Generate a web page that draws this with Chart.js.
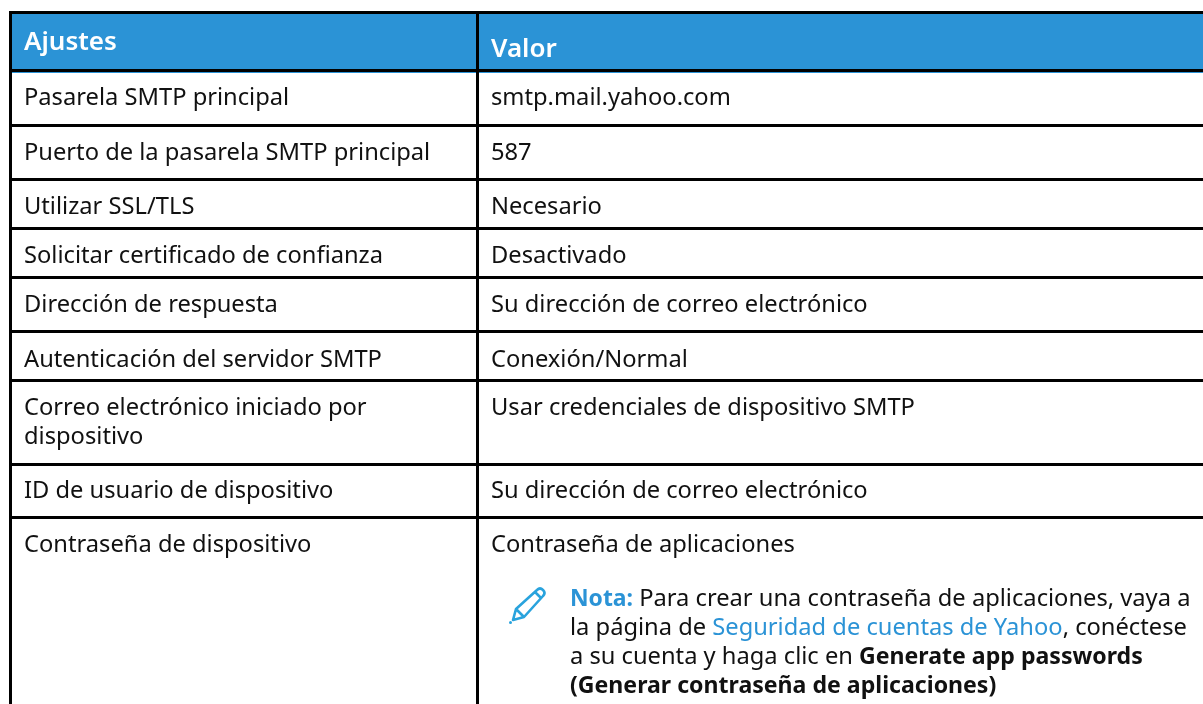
<!DOCTYPE html>
<html lang="es">
<head>
<meta charset="utf-8">
<title>Ajustes Yahoo SMTP</title>
<style>
  html, body { margin: 0; padding: 0; background: #fff; }
  canvas { display: block; }
</style>
<script src="https://cdn.jsdelivr.net/npm/chart.js@4"></script>
</head>
<body>
<canvas id="tabla" width="1203" height="704"></canvas>
<script>
  // ── TABLE CONTENT ─────────────────────────────────────────────────────────
  var tableHeaders = ['Ajustes', 'Valor'];
  var settingNames = [
    ['Pasarela SMTP principal'],
    ['Puerto de la pasarela SMTP principal'],
    ['Utilizar SSL/TLS'],
    ['Solicitar certificado de confianza'],
    ['Dirección de respuesta'],
    ['Autenticación del servidor SMTP'],
    ['Correo electrónico iniciado por', 'dispositivo'],
    ['ID de usuario de dispositivo'],
    ['Contraseña de dispositivo']
  ];
  var settingValues = [
    'smtp.mail.yahoo.com',
    '587',
    'Necesario',
    'Desactivado',
    'Su dirección de correo electrónico',
    'Conexión/Normal',
    'Usar credenciales de dispositivo SMTP',
    'Su dirección de correo electrónico',
    'Contraseña de aplicaciones'
  ];
  var noteLine1 = [['Nota:', 'noteHead'], [' Para crear una contraseña de aplicaciones, vaya a', 'plain']];
  var noteLine2 = [['la página de ', 'plain'], ['Seguridad de cuentas de Yahoo', 'link'], [', conéctese', 'plain']];
  var noteLine3 = [['a su cuenta y haga clic en ', 'plain'], ['Generate app passwords', 'bold']];
  var noteLine4 = [['(Generar contraseña de aplicaciones)', 'bold']];

  // ── LAYOUT (axis units are page pixels) ───────────────────────────────────
  var columnEdges = [10.5, 477.5];
  var rowEdges = [12.5, 70.5, 125.5, 179.5, 228.5, 277.5, 331.5, 380.5, 464.5, 517.5];
  var headerBaselines = [50, 57];
  var rowBaselines = [105, 160, 214, 263, 312, 367, 415, 498, 552];
  var noteBaselines = [606, 635, 664, 693];
  var textX = [24, 491];
  var noteX = 570;

  var BLUE = '#2b93d6';
  var INK = '#111111';
  var FAMILY = '"Noto Sans", sans-serif';
  var FONTS = {
    plain:    '400 23.7px ' + FAMILY,
    bold:     '700 23.1px ' + FAMILY,
    noteHead: '700 22.9px ' + FAMILY,
    link:     '400 23.7px ' + FAMILY,
    header:   '600 26px ' + FAMILY
  };
  var COLORS = { plain: INK, bold: INK, noteHead: BLUE, link: BLUE, header: '#ffffff' };

  function put(ctx, text, x, y, style) {
    ctx.font = FONTS[style];
    ctx.fillStyle = COLORS[style];
    ctx.fillText(text, x, y);
    return x + ctx.measureText(text).width;
  }

  // Cell text and the note icon, positioned through the chart's scales.
  var tableText = {
    id: 'tableText',
    afterDraw: function (chart) {
      var ctx = chart.ctx;
      var sx = chart.scales.x;
      var sy = chart.scales.y;
      ctx.save();
      ctx.textBaseline = 'alphabetic';
      ctx.textAlign = 'left';

      tableHeaders.forEach(function (h, i) {
        put(ctx, h, sx.getPixelForValue(textX[i]), sy.getPixelForValue(headerBaselines[i]), 'header');
      });

      settingNames.forEach(function (lines, i) {
        lines.forEach(function (line, j) {
          put(ctx, line, sx.getPixelForValue(textX[0]), sy.getPixelForValue(rowBaselines[i] + j * 29), 'plain');
        });
        put(ctx, settingValues[i], sx.getPixelForValue(textX[1]), sy.getPixelForValue(rowBaselines[i]), 'plain');
      });

      [noteLine1, noteLine2, noteLine3, noteLine4].forEach(function (runs, i) {
        var x = sx.getPixelForValue(noteX);
        runs.forEach(function (run) {
          x = put(ctx, run[0], x, sy.getPixelForValue(noteBaselines[i]), run[1]);
        });
      });

      // pencil icon
      var ox = sx.getPixelForValue(510);
      var oy = sy.getPixelForValue(623);
      ctx.translate(ox, oy);
      ctx.strokeStyle = '#29a3dd';
      ctx.fillStyle = '#29a3dd';
      ctx.lineWidth = 2.6;
      ctx.lineJoin = 'round';
      ctx.beginPath();
      ctx.moveTo(3, -3);
      ctx.lineTo(6, -14);
      ctx.lineTo(27, -33);
      ctx.quadraticCurveTo(30, -36, 33, -33);
      ctx.quadraticCurveTo(36, -30, 33, -27);
      ctx.lineTo(14, -6);
      ctx.closePath();
      ctx.moveTo(6, -14);
      ctx.lineTo(14, -6);
      ctx.moveTo(25, -31);
      ctx.lineTo(31, -25);
      ctx.stroke();
      ctx.beginPath();
      ctx.arc(0.5, -0.5, 1.5, 0, Math.PI * 2);
      ctx.fill();
      ctx.restore();
    }
  };

  new Chart(document.getElementById('tabla'), {
    type: 'scatter',
    data: {
      datasets: [{
        // header band, runs just past the rule under it
        data: [{ x: 9, y: 11 }, { x: 1203, y: 11 }],
        showLine: true,
        borderWidth: 0,
        pointRadius: 0,
        backgroundColor: BLUE,
        fill: { value: 73 }
      }]
    },
    options: {
      responsive: false,
      animation: false,
      layout: { padding: { left: 9, top: 11, right: 0, bottom: 0 } },
      plugins: { legend: { display: false }, tooltip: { enabled: false } },
      scales: {
        x: {
          type: 'linear',
          min: 9,
          max: 1203,
          afterBuildTicks: function (axis) {
            axis.ticks = columnEdges.map(function (v) { return { value: v }; });
          },
          ticks: { display: false },
          border: { display: false },
          grid: { color: '#000', lineWidth: 3, drawTicks: false, z: 1 }
        },
        y: {
          type: 'linear',
          reverse: true,
          min: 11,
          max: 704,
          afterBuildTicks: function (axis) {
            axis.ticks = rowEdges.map(function (v) { return { value: v }; });
          },
          ticks: { display: false },
          border: { display: false },
          grid: { color: '#000', lineWidth: 3, drawTicks: false, z: 1 }
        }
      }
    },
    plugins: [tableText]
  });
</script>
</body>
</html>
